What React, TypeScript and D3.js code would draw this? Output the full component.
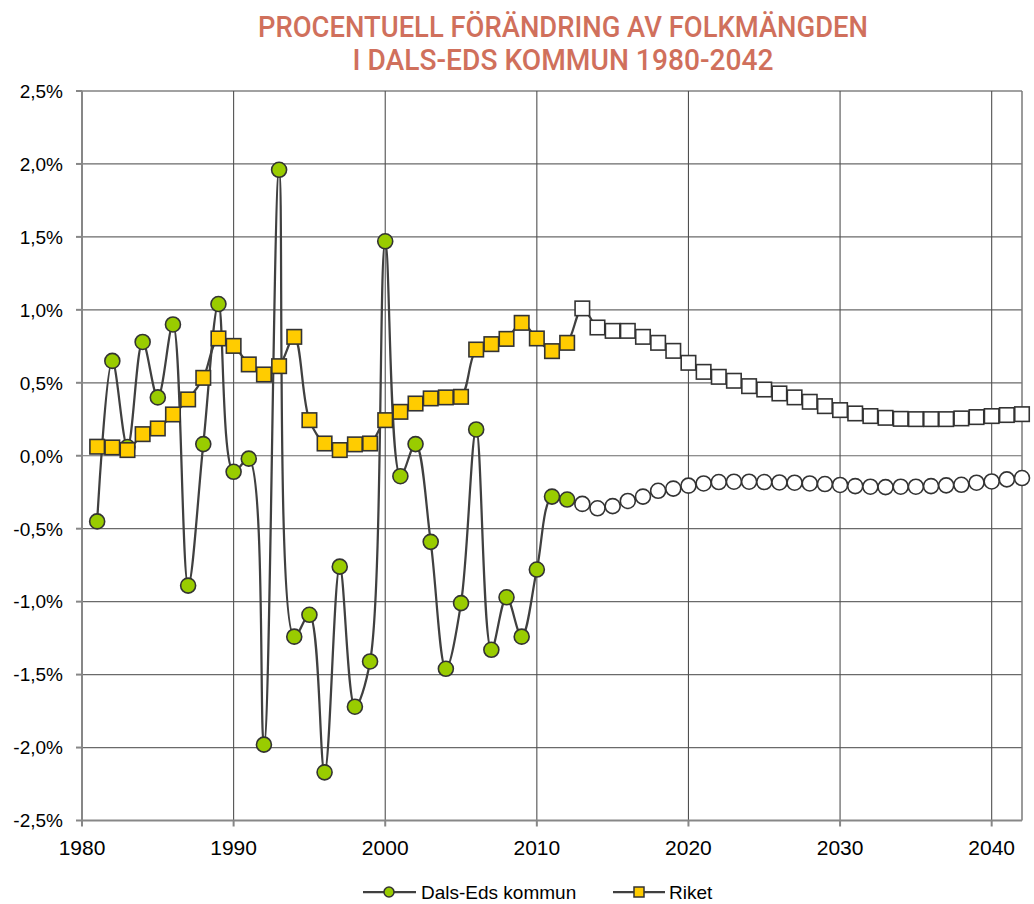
import React from "react";
import * as d3 from "d3";

const titleLines = ["PROCENTUELL FÖRÄNDRING AV FOLKMÄNGDEN", "I DALS-EDS KOMMUN 1980-2042"];
const seriesNames = ["Dals-Eds kommun", "Riket"];

const actualYears = d3.range(1981, 2013);
const projYears = d3.range(2013, 2043);

const dalsEdActual = [
  -0.45, 0.65, 0.06, 0.78, 0.40, 0.90, -0.89, 0.08, 1.04, -0.11,
  -0.02, -1.98, 1.96, -1.24, -1.09, -2.17, -0.76, -1.72, -1.41, 1.47,
  -0.14, 0.08, -0.59, -1.46, -1.01, 0.18, -1.33, -0.97, -1.24, -0.78,
  -0.28, -0.30,
];
const dalsEdProj = [
  -0.33, -0.36, -0.345, -0.31, -0.28, -0.24, -0.225, -0.205, -0.19, -0.18,
  -0.178, -0.178, -0.18, -0.183, -0.185, -0.19, -0.194, -0.2, -0.208, -0.212,
  -0.215, -0.212, -0.212, -0.208, -0.203, -0.199, -0.185, -0.176, -0.162, -0.153,
];
const riketActual = [
  0.062, 0.057, 0.039, 0.148, 0.187, 0.283, 0.386, 0.534, 0.804, 0.753,
  0.626, 0.557, 0.614, 0.815, 0.244, 0.084, 0.039, 0.078, 0.084, 0.244,
  0.301, 0.358, 0.393, 0.40, 0.404, 0.728, 0.765, 0.801, 0.911, 0.804,
  0.717, 0.774,
];
const riketProj = [
  1.01, 0.879, 0.856, 0.856, 0.815, 0.774, 0.719, 0.637, 0.575, 0.541,
  0.514, 0.477, 0.454, 0.427, 0.40, 0.37, 0.34, 0.313, 0.29, 0.272,
  0.26, 0.253, 0.251, 0.251, 0.251, 0.256, 0.265, 0.272, 0.279, 0.285,
];

const yTicks = [2.5, 2.0, 1.5, 1.0, 0.5, 0.0, -0.5, -1.0, -1.5, -2.0, -2.5];
const xTicks = [1980, 1990, 2000, 2010, 2020, 2030, 2040];

type Pt = { year: number; v: number; proj: boolean };

function build(actual: number[], proj: number[]): Pt[] {
  return [
    ...actualYears.map((y, i) => ({ year: y, v: actual[i], proj: false })),
    ...projYears.map((y, i) => ({ year: y, v: proj[i], proj: true })),
  ];
}

export default function App() {
  const W = 1034;
  const H = 904;
  const x = d3.scaleLinear().domain([1980, 2042]).range([82, 1022]);
  const y = d3.scaleLinear().domain([-2.5, 2.5]).range([820.5, 91]);

  const dals = build(dalsEdActual, dalsEdProj);
  const riket = build(riketActual, riketProj);

  const line = d3
    .line<Pt>()
    .x((d) => x(d.year))
    .y((d) => y(d.v))
    .curve(d3.curveCatmullRom.alpha(0.5));

  const fmt = (v: number) => v.toFixed(1).replace(".", ",") + "%";
  const labelFont = "'Liberation Sans', Arial, sans-serif";
  const lineColor = "#404040";
  const markStroke = "#333333";
  const green = "#99CC00";
  const yellow = "#FFCC00";
  const cr = 7.5;
  const sq = 14.5;
  const legY = 892;

  return (
    <svg
      width={W}
      height={H}
      style={{ position: "absolute", left: 0, top: 0, background: "#fff" }}
    >
      {/* title */}
      <text
        x={563}
        y={37}
        textAnchor="middle"
        fill="#D0705C"
        fontFamily="Roboto, 'Liberation Sans', sans-serif"
        fontWeight={500}
        fontSize={29}
        textLength={610}
        lengthAdjust="spacingAndGlyphs"
      >
        {titleLines[0]}
      </text>
      <text
        x={563}
        y={70}
        textAnchor="middle"
        fill="#D0705C"
        fontFamily="Roboto, 'Liberation Sans', sans-serif"
        fontWeight={500}
        fontSize={29}
        textLength={421}
        lengthAdjust="spacingAndGlyphs"
      >
        {titleLines[1]}
      </text>

      {/* horizontal gridlines */}
      {yTicks.map((t) => (
        <line
          key={"h" + t}
          x1={x(1980)}
          x2={x(2042)}
          y1={y(t)}
          y2={y(t)}
          stroke={t === 2.5 ? "#444" : "#6a6a6a"}
          strokeWidth={1.2}
        />
      ))}
      {/* vertical gridlines */}
      {xTicks
        .filter((t) => t > 1980)
        .map((t) => (
          <line
            key={"v" + t}
            x1={x(t)}
            x2={x(t)}
            y1={y(2.5)}
            y2={y(-2.5)}
            stroke="#505050"
            strokeWidth={1.1}
          />
        ))}
      <line x1={x(2042)} x2={x(2042)} y1={y(2.5)} y2={y(-2.5)} stroke="#7a7a7a" strokeWidth={1.5} />

      {/* axes */}
      <line x1={x(1980)} x2={x(1980)} y1={y(2.5)} y2={y(-2.5) + 1} stroke="#878787" strokeWidth={2} />
      <line x1={x(1980) - 1} x2={x(2042)} y1={y(-2.5)} y2={y(-2.5)} stroke="#878787" strokeWidth={2} />
      {yTicks.map((t) => (
        <g key={"yt" + t}>
          <line x1={x(1980) - 6} x2={x(1980)} y1={y(t)} y2={y(t)} stroke="#878787" strokeWidth={2} />
          <text
            x={63}
            y={y(t)}
            dy="0.36em"
            textAnchor="end"
            fontFamily={labelFont}
            fontSize={19}
            fill="#000"
          >
            {fmt(t)}
          </text>
        </g>
      ))}
      {xTicks.map((t) => (
        <g key={"xt" + t}>
          <line x1={x(t)} x2={x(t)} y1={y(-2.5)} y2={y(-2.5) + 6} stroke="#878787" strokeWidth={2} />
          <text
            x={x(t)}
            y={855}
            textAnchor="middle"
            fontFamily={labelFont}
            fontSize={21}
            fill="#000"
          >
            {t}
          </text>
        </g>
      ))}

      {/* Dals-Ed series */}
      <path d={line(dals) || ""} fill="none" stroke={lineColor} strokeWidth={2.25} />
      {dals.map((d) => (
        <circle
          key={"c" + d.year}
          cx={x(d.year)}
          cy={y(d.v)}
          r={cr}
          fill={d.proj ? "#fff" : green}
          stroke={markStroke}
          strokeWidth={1.6}
        />
      ))}

      {/* Riket series */}
      <path d={line(riket) || ""} fill="none" stroke={lineColor} strokeWidth={2.25} />
      {riket.map((d) => (
        <rect
          key={"s" + d.year}
          x={x(d.year) - sq / 2}
          y={y(d.v) - sq / 2}
          width={sq}
          height={sq}
          fill={d.proj ? "#fff" : yellow}
          stroke={markStroke}
          strokeWidth={1.6}
        />
      ))}

      {/* legend */}
      <g>
        <line x1={363} x2={416} y1={legY} y2={legY} stroke={lineColor} strokeWidth={2.25} />
        <circle cx={389} cy={legY} r={5} fill={green} stroke={markStroke} strokeWidth={1.5} />
        <text x={421} y={legY} dy="0.35em" fontFamily={labelFont} fontSize={19} fill="#000">
          {seriesNames[0]}
        </text>
        <line x1={613} x2={665} y1={legY} y2={legY} stroke={lineColor} strokeWidth={2.25} />
        <rect x={634} y={legY - 5} width={10} height={10} fill={yellow} stroke={markStroke} strokeWidth={1.5} />
        <text x={669} y={legY} dy="0.35em" fontFamily={labelFont} fontSize={19} fill="#000">
          {seriesNames[1]}
        </text>
      </g>
    </svg>
  );
}
